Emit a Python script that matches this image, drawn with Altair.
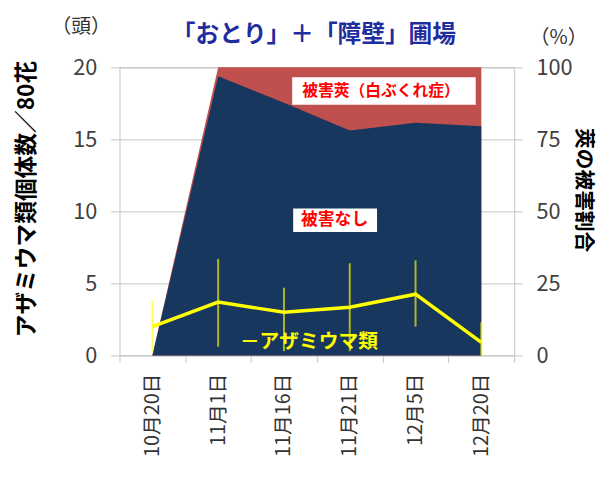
import altair as alt
import pandas as pd

categories = ["10月20日", "11月1日", "11月16日", "11月21日", "12月5日", "12月20日"]
pct_undamaged = [0, 96.9, 87.7, 78.1, 80.8, 79.5]
pct_total = [0, 100, 100, 100, 100, 100]
thrips = [2.0, 3.7, 3.0, 3.35, 4.25, 0.9]
thrips_low = [0.2, 0.6, 0.3, 0.3, 2.0, 0.0]
thrips_high = [3.8, 6.7, 4.7, 6.4, 6.6, 2.3]

left_ticks = [0, 5, 10, 15, 20]
right_ticks = [0, 25, 50, 75, 100]

title_text = "「おとり」＋「障壁」圃場"
left_unit = "（頭）"
right_unit = "（%）"
left_title = "アザミウマ類個体数／80花"
right_title = "莢の被害割合"
label_damaged = "被害莢（白ぶくれ症）"
label_undamaged = "被害なし"
label_thrips = "－アザミウマ類"

FONT = "Noto Sans CJK JP"
NAVY = "#17375e"
RED = "#c0504d"
GRID = "#c4c4c4"

df = pd.DataFrame({
    "cat": categories,
    "undamaged": pct_undamaged,
    "total": pct_total,
    "thrips": thrips,
    "lo": thrips_low,
    "hi": thrips_high,
})

base = alt.Chart(df)

xscale = alt.Scale(type="band", paddingInner=0, paddingOuter=0)

x_axis = alt.Axis(
    title=None, labelAngle=-90, labelAlign="right", labelBaseline="middle",
    labelFontSize=20, labelFont=FONT, labelColor="#333333", labelPadding=11,
    tickBand="extent", tickSize=7, tickColor=GRID, domain=False, grid=False,
)


def xenc():
    return alt.X("cat:N", sort=categories, scale=xscale, bandPosition=0.5, axis=x_axis)


pct_scale = alt.Scale(domain=[0, 100], nice=False, zero=True)
cnt_scale = alt.Scale(domain=[0, 20], nice=False, zero=True)

red_area = base.mark_area(color=RED, opacity=1).encode(
    x=xenc(),
    y=alt.Y("total:Q", scale=pct_scale, stack=None, axis=None),
)

navy_area = base.mark_area(color=NAVY, opacity=1).encode(
    x=xenc(),
    y=alt.Y("undamaged:Q", scale=pct_scale, stack=None, axis=alt.Axis(
        orient="right", values=right_ticks, grid=False, domain=False,
        tickSize=8, tickColor=GRID, labelFontSize=22, labelFont=FONT,
        labelColor="#404040", labelPadding=14,
        title=right_title, titleFont=FONT, titleFontSize=21, titleFontWeight="bold",
        titleColor="#000000", titleAngle=90, titleX=69, titleY=124,
        titleAlign="center", titleBaseline="middle",
    )),
)

err = base.mark_rule(color="#ffff00", opacity=0.65, strokeWidth=2).encode(
    x=xenc(),
    y=alt.Y("lo:Q", scale=cnt_scale, axis=None),
    y2="hi:Q",
)

line = base.mark_line(color="#ffff00", strokeWidth=3.5).encode(
    x=xenc(),
    y=alt.Y("thrips:Q", scale=cnt_scale, axis=alt.Axis(
        orient="left", values=left_ticks, grid=True, gridColor=GRID, gridWidth=1,
        domain=False, tickSize=9, tickColor=GRID, labelFontSize=22, labelFont=FONT,
        labelColor="#404040", labelPadding=14,
        title=left_title, titleFont=FONT, titleFontSize=23, titleFontWeight="bold",
        titleColor="#000000", titleAngle=-90, titleX=-94, titleY=133,
        titleAlign="center", titleBaseline="middle",
    )),
)

one = pd.DataFrame({"t": [0]})


def box(x1, x2, y1, y2):
    return alt.Chart(one).mark_rect(color="white").encode(
        x=alt.value(x1), x2=alt.value(x2), y=alt.value(y1), y2=alt.value(y2))


def label(txt, x, y, size, color, weight="bold", align="center"):
    return alt.Chart(pd.DataFrame({"t": [txt]})).mark_text(
        font=FONT, fontSize=size, fontWeight=weight, color=color,
        align=align, baseline="middle",
    ).encode(text="t:N", x=alt.value(x), y=alt.value(y))


annotations = [
    box(175, 361, 10, 38),
    label(label_damaged, 265, 24, 16, "#ff0000"),
    box(176, 261, 143, 167),
    label(label_undamaged, 218, 155, 17, "#ff0000"),
    label(label_thrips, 122, 278, 20, "#ffff00", align="left"),
    label(title_text, 197, -33, 24, "#1f2d9e"),
    label(left_unit, -39, -41, 20, "#333333", weight="normal"),
    label(right_unit, 445, -30, 20, "#333333", weight="normal"),
]

chart = alt.layer(red_area, navy_area, err, line, *annotations).resolve_scale(
    y="independent"
).properties(
    width=400, height=292,
    autosize=alt.AutoSizeParams(type="none"),
    padding={"left": 113, "top": 57, "right": 91, "bottom": 113},
).configure_view(stroke=GRID, strokeWidth=1)

chart.save("out.html", embed_options={"renderer": "svg", "actions": False})
